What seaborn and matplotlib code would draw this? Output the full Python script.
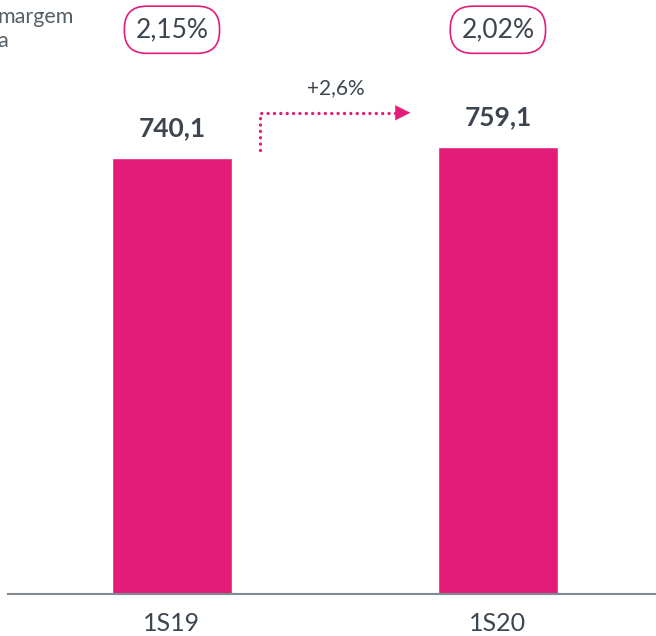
import matplotlib
matplotlib.use("Agg")
import matplotlib.pyplot as plt
import seaborn as sns
import pandas as pd

# dados
periodos = ["1S19", "1S20"]
valores = [740.1, 759.1]
rotulos = ["740,1", "759,1"]
margens = ["2,15%", "2,02%"]
variacao = "+2,6%"

rosa = "#e31c79"
cinza = "#3d4650"

sns.set_theme(style="white")
plt.rcParams["font.family"] = ["Lato", "DejaVu Sans"]

df = pd.DataFrame({"periodo": periodos, "valor": valores})

fig = plt.figure(figsize=(6.56, 6.36), dpi=100)
ax = fig.add_axes([8 / 656, 42 / 636, 648 / 656, 594 / 636])

sns.barplot(data=df, x="periodo", y="valor", color=rosa, width=0.368,
            saturation=1, ax=ax)

ax.set_xlim(-0.503, 1.485)
ax.set_ylim(0, 1008.5)

for s in ["top", "right", "left"]:
    ax.spines[s].set_visible(False)
ax.spines["bottom"].set_color("#7f8a93")
ax.spines["bottom"].set_linewidth(1.5)
ax.set_yticks([])
ax.set_xlabel("")
ax.set_ylabel("")
ax.tick_params(axis="x", length=0, pad=13, labelsize=18, colors=cinza)

# valores acima das barras
for i, (v, r) in enumerate(zip(valores, rotulos)):
    ax.text(i, v + 51, r, ha="center", va="center", fontsize=19,
            fontweight="bold", color=cinza)

# margens em "pilula"
for i, m in enumerate(margens):
    ax.text(i, 958, m, ha="center", va="center", fontsize=19, color=cinza,
            bbox=dict(boxstyle="round,pad=0.42,rounding_size=0.85",
                      fc="white", ec=rosa, lw=1.2))

# seta pontilhada
x0, x1 = 0.27, 0.695
y0, y1 = 754, 817
ax.plot([x0, x0, x1], [y0, y1, y1], color=rosa, lw=2.4,
        linestyle=(0, (0.01, 1.9)), dash_capstyle="round")
ax.annotate("", xy=(x1 + 0.045, y1), xytext=(x1 - 0.005, y1),
            arrowprops=dict(arrowstyle="-|>,head_length=0.9,head_width=0.45",
                            color=rosa, lw=0.1))
ax.text(0.503, 859, variacao, ha="center", va="center", fontsize=15,
        color=cinza)

fig.text(-0.004, 1 - 29 / 636, "margem\na", ha="left", va="center",
         fontsize=15.5, color="#555f66", linespacing=1.2)

fig.savefig("out.png", dpi=100)
